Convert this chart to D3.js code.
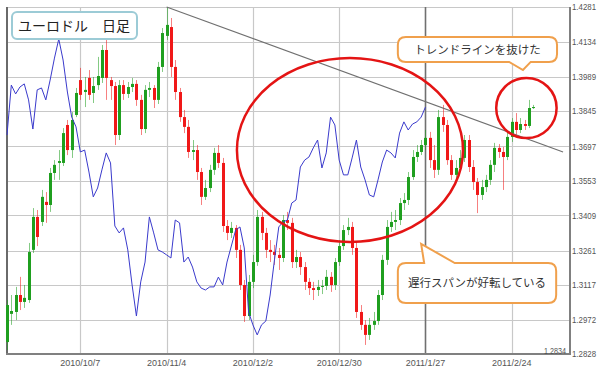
<!DOCTYPE html>
<html><head><meta charset="utf-8">
<script src="https://cdn.jsdelivr.net/npm/d3@7"></script>
<style>body{margin:0;background:#fff}svg{display:block}</style>
</head><body><svg id="c" width="600" height="372"></svg>
<script>
// ---- data (EUR/USD daily, index 0 = 2010/9/14) ----
const open = [1.2878,1.2996,1.3004,1.3075,1.3046,1.3054,1.3264,1.3402,1.3381,1.3465,
1.3452,1.3586,1.3628,1.3628,1.3787,1.3682,1.3829,1.3975,1.3925,1.3984,
1.3921,1.3954,1.3984,1.4101,1.3975,1.3950,1.3745,1.3954,1.3917,1.3946,
1.3959,1.3892,1.3770,1.3934,1.3942,1.3892,1.4030,1.4160,1.4197,1.4030,
1.3925,1.3820,1.3779,1.3674,1.3682,1.3590,1.3486,1.3523,1.3599,1.3670,
1.3628,1.3364,1.3335,1.3356,1.3264,1.3117,1.2987,1.3130,1.3213,1.3402,
1.3335,1.3264,1.3255,1.3243,1.3230,1.3389,1.3377,1.3213,1.3234,1.3192,
1.3130,1.3104,1.3096,1.3109,1.3113,1.3151,1.3117,1.3213,1.3280,1.3347,
1.3360,1.3272,1.3004,1.2950,1.2908,1.2950,1.2966,1.3075,1.3222,1.3360,
1.3381,1.3389,1.3460,1.3473,1.3569,1.3653,1.3674,1.3703,1.3733,1.3640,
1.3599,1.3820,1.3787,1.3640,1.3578,1.3607,1.3649,1.3724,1.3611,1.3548,
1.3494,1.3527,1.3557,1.3620,1.3691,1.3674,1.3653,1.3737,1.3800,1.3766,
1.3791,1.3783,1.3858];
const high = [1.3054,1.3075,1.3109,1.3151,1.3117,1.3293,1.3439,1.3431,1.3515,1.3506,
1.3607,1.3640,1.3682,1.3774,1.3808,1.3841,1.3942,1.4026,1.3988,1.4017,
1.3988,1.4072,1.4122,1.4160,1.3988,1.3967,1.3975,1.3975,1.3967,1.3984,
1.3975,1.3913,1.3954,1.3967,1.3954,1.4051,1.4193,1.4281,1.4235,1.4059,
1.3942,1.3850,1.3808,1.3724,1.3703,1.3607,1.3557,1.3620,1.3691,1.3703,
1.3649,1.3389,1.3381,1.3368,1.3285,1.3138,1.3159,1.3243,1.3431,1.3423,
1.3356,1.3305,1.3285,1.3272,1.3410,1.3423,1.3398,1.3264,1.3255,1.3213,
1.3146,1.3130,1.3138,1.3138,1.3180,1.3171,1.3230,1.3305,1.3368,1.3398,
1.3381,1.3297,1.3033,1.2970,1.2979,1.3004,1.3096,1.3243,1.3389,1.3423,
1.3431,1.3481,1.3502,1.3590,1.3682,1.3703,1.3724,1.3766,1.3758,1.3703,
1.3850,1.3871,1.3808,1.3661,1.3640,1.3682,1.3745,1.3745,1.3640,1.3565,
1.3557,1.3578,1.3640,1.3712,1.3707,1.3695,1.3758,1.3816,1.3837,1.3816,
1.3808,1.3892,1.3871];
const low = [1.2845,1.2950,1.2970,1.3012,1.3021,1.3042,1.3251,1.3280,1.3364,1.3377,
1.3423,1.3557,1.3557,1.3615,1.3661,1.3649,1.3820,1.3892,1.3862,1.3892,
1.3879,1.3934,1.3963,1.3892,1.3892,1.3703,1.3724,1.3892,1.3900,1.3925,
1.3867,1.3745,1.3753,1.3904,1.3858,1.3875,1.4009,1.4143,1.3988,1.3892,
1.3800,1.3753,1.3649,1.3640,1.3557,1.3452,1.3473,1.3506,1.3578,1.3607,
1.3339,1.3305,1.3314,1.3230,1.3096,1.2962,1.2970,1.3104,1.3197,1.3305,
1.3230,1.3213,1.3201,1.3180,1.3213,1.3347,1.3188,1.3188,1.3159,1.3096,
1.3075,1.3054,1.3071,1.3079,1.3096,1.3088,1.3096,1.3197,1.3264,1.3326,
1.3243,1.2979,1.2929,1.2866,1.2887,1.2929,1.2950,1.3054,1.3201,1.3339,
1.3347,1.3368,1.3431,1.3452,1.3557,1.3632,1.3661,1.3682,1.3607,1.3565,
1.3578,1.3758,1.3620,1.3557,1.3548,1.3590,1.3632,1.3590,1.3515,1.3418,
1.3473,1.3506,1.3536,1.3590,1.3649,1.3515,1.3640,1.3716,1.3745,1.3753,
1.3766,1.3774,1.3854];
const close = [1.3033,1.3008,1.3075,1.3046,1.3063,1.3255,1.3402,1.3318,1.3486,1.3452,
1.3586,1.3620,1.3636,1.3753,1.3682,1.3808,1.3921,1.3913,1.3934,1.3913,
1.3950,1.3992,1.4101,1.3984,1.3950,1.3745,1.3954,1.3917,1.3946,1.3959,
1.3892,1.3770,1.3934,1.3942,1.3892,1.4030,1.4172,1.4206,1.4030,1.3925,
1.3820,1.3779,1.3674,1.3682,1.3590,1.3486,1.3523,1.3599,1.3670,1.3628,
1.3364,1.3335,1.3356,1.3264,1.3117,1.2987,1.3130,1.3213,1.3402,1.3335,
1.3264,1.3255,1.3243,1.3230,1.3389,1.3377,1.3213,1.3234,1.3192,1.3130,
1.3104,1.3096,1.3109,1.3113,1.3151,1.3117,1.3213,1.3280,1.3347,1.3360,
1.3272,1.3004,1.2950,1.2908,1.2950,1.2966,1.3075,1.3222,1.3360,1.3381,
1.3389,1.3460,1.3473,1.3569,1.3653,1.3674,1.3703,1.3733,1.3640,1.3599,
1.3820,1.3787,1.3640,1.3578,1.3607,1.3649,1.3724,1.3611,1.3548,1.3494,
1.3527,1.3557,1.3620,1.3691,1.3674,1.3653,1.3737,1.3800,1.3766,1.3791,
1.3783,1.3858,1.3862];
// lagging span (chikou), drawn from index 0
const chikou = [1.3745,1.3954,1.3917,1.3946,1.3959,1.3892,1.3770,1.3934,1.3942,1.3892,
1.3975,1.4067,1.4147,1.4059,1.3925,1.3820,1.3779,1.3674,1.3682,1.3590,
1.3486,1.3523,1.3599,1.3670,1.3628,1.3364,1.3335,1.3356,1.3264,1.3117,
1.2987,1.3130,1.3213,1.3402,1.3335,1.3264,1.3255,1.3243,1.3230,1.3389,
1.3377,1.3213,1.3234,1.3192,1.3130,1.3104,1.3096,1.3109,1.3109,1.3150,
1.3117,1.3213,1.3280,1.3347,1.3360,1.3272,1.3004,1.2950,1.2908,1.2950,
1.2966,1.3075,1.3222,1.3360,1.3381,1.3389,1.3460,1.3473,1.3611,1.3640,
1.3653,1.3691,1.3724,1.3607,1.3670,1.3820,1.3787,1.3640,1.3578,1.3578,
1.3649,1.3724,1.3611,1.3557,1.3494,1.3486,1.3557,1.3632,1.3682,1.3670,
1.3649,1.3753,1.3800,1.3766,1.3791,1.3800,1.3820,1.3862];
const yTicks = [1.2828,1.2972,1.3117,1.3261,1.3409,1.3553,1.3697,1.3845,1.3989,1.4134,1.4281];
const xTickIdx = [17,37,57,77,97,117];
const xTickLabels = ["2010/10/7","2010/11/4","2010/12/2","2010/12/30","2011/1/27","2011/2/24"];
const markerIdx = 97;           // current lagging-span position
const lowLabel = "1.2834";
const titleText = "ユーロドル　日足";
const note1 = "トレンドラインを抜けた";
const note2 = "遅行スパンが好転している";
const trendline = [{i:37,p:1.4281},{i:128.9,p:1.3674}];
const ellipses = [{i:79.5,p:1.3682,ri:26.2,rp:0.0385},{i:120.4,p:1.3858,ri:7.0,rp:0.0126}];
const callouts = [
  {text:note1,i0:90.6,i1:127.5,p0:1.4155,p1:1.4051,tip:{i:119.6,p:1.4017},base:[116.4,121.4],side:"bottom"},
  {text:note2,i0:90.6,i1:127.3,p0:1.3209,p1:1.3042,tip:{i:96.0,p:1.3289},base:[96.7,103.8],side:"top"}
];

// ---- drawing ----
const svg = d3.select("#c");
const L=7, R=570, T=7, B=354;
const x = d3.scaleLinear().domain([0,130.6]).range([L, L+130.6*4.314]);
const y = d3.scaleLinear().domain([1.2828,1.4281]).range([B,T]);
const GREEN="#1f9f1f", RED="#f01818";
const numFont = "'Liberation Sans',Arial,sans-serif";
const jpFont = "'Noto Sans CJK JP','Noto Sans',sans-serif";

svg.append("rect").attr("width",600).attr("height",372).attr("fill","#fff");

// grid
const g = svg.append("g");
g.selectAll("line.h").data(yTicks).join("line")
  .attr("x1",L).attr("x2",R).attr("y1",d=>Math.round(y(d))+0.5).attr("y2",d=>Math.round(y(d))+0.5)
  .attr("stroke","#c8c8c8").attr("stroke-width",1.2);
g.selectAll("line.v").data(xTickIdx).join("line")
  .attr("x1",d=>Math.round(x(d))+0.5).attr("x2",d=>Math.round(x(d))+0.5).attr("y1",T).attr("y2",B)
  .attr("stroke",d=>d===markerIdx?"#707070":"#c8c8c8").attr("stroke-width",d=>d===markerIdx?1.6:1.2);

// axis frame
svg.append("line").attr("x1",L).attr("x2",L).attr("y1",T).attr("y2",B+1).attr("stroke","#6a6a6a").attr("stroke-width",2);
svg.append("line").attr("x1",L-1).attr("x2",R+1).attr("y1",B).attr("y2",B).attr("stroke","#808080").attr("stroke-width",2);
svg.append("line").attr("x1",R).attr("x2",R).attr("y1",T).attr("y2",B+1).attr("stroke","#808080").attr("stroke-width",2);

// y labels
svg.selectAll("text.yl").data(yTicks).join("text")
  .attr("x",R+2).attr("y",d=>y(d)).attr("dy","0.35em")
  .attr("font-family",numFont).attr("font-size",9.5).attr("fill","#555")
  .attr("textLength",24).attr("lengthAdjust","spacingAndGlyphs")
  .text(d=>d.toFixed(4));
// x labels
svg.selectAll("text.xl").data(xTickIdx).join("text")
  .attr("x",d=>x(d)).attr("y",366).attr("text-anchor","middle")
  .attr("font-family",numFont).attr("font-size",9).attr("fill","#555")
  .text((d,k)=>xTickLabels[k]);
// low label
svg.append("text").attr("x",R-4).attr("y",y(+lowLabel)+1).attr("text-anchor","end")
  .attr("font-family",numFont).attr("font-size",9.5).attr("fill","#555")
  .attr("textLength",22).attr("lengthAdjust","spacingAndGlyphs").text(lowLabel);

// candles
const idx = d3.range(close.length);
const cg = svg.append("g");
cg.selectAll("line.w").data(idx).join("line")
  .attr("x1",i=>Math.round(x(i))+0.5).attr("x2",i=>Math.round(x(i))+0.5)
  .attr("y1",i=>y(high[i])).attr("y2",i=>y(low[i]))
  .attr("stroke",i=>close[i]>=open[i]?GREEN:RED).attr("stroke-opacity",0.55).attr("stroke-width",1);
cg.selectAll("rect.b").data(idx).join("rect")
  .attr("x",i=>Math.round(x(i))-1).attr("width",3)
  .attr("y",i=>y(Math.max(open[i],close[i])))
  .attr("height",i=>Math.max(1,Math.abs(y(open[i])-y(close[i]))))
  .attr("fill",i=>close[i]>=open[i]?GREEN:RED);

// lagging span
svg.append("path").datum(chikou)
  .attr("d",d3.line().x((d,i)=>x(i)).y(d=>y(d)))
  .attr("fill","none").attr("stroke","#3a3acc").attr("stroke-width",1);

// trendline
svg.append("line").attr("x1",x(trendline[0].i)).attr("y1",y(trendline[0].p))
  .attr("x2",x(trendline[1].i)).attr("y2",y(trendline[1].p))
  .attr("stroke","#707070").attr("stroke-width",1.1);

// title box
svg.append("rect").attr("x",12).attr("y",12).attr("width",125).attr("height",27).attr("rx",5)
  .attr("fill","#fff").attr("stroke","#9ccbd6").attr("stroke-width",2);
svg.append("text").attr("x",18).attr("y",31).attr("font-family",jpFont).attr("font-size",14)
  .attr("fill","#222").text(titleText);

// ellipses
svg.selectAll("ellipse").data(ellipses).join("ellipse")
  .attr("cx",d=>x(d.i)).attr("cy",d=>y(d.p))
  .attr("rx",d=>x(d.ri)-x(0)).attr("ry",d=>y(0)-y(d.rp)).attr("fill","none")
  .attr("stroke","#e41414").attr("stroke-width",2.5);

// callouts
callouts.forEach(c=>{
  const x0=x(c.i0), x1=x(c.i1), y0=y(c.p0), y1=y(c.p1), r=8;
  const bx0=x(c.base[0]), bx1=x(c.base[1]), tx=x(c.tip.i), ty=y(c.tip.p);
  let p;
  if(c.side==="bottom"){
    p=`M${x0+r},${y0} H${x1-r} Q${x1},${y0} ${x1},${y0+r} V${y1-r} Q${x1},${y1} ${x1-r},${y1} H${bx1} L${tx},${ty} L${bx0},${y1} H${x0+r} Q${x0},${y1} ${x0},${y1-r} V${y0+r} Q${x0},${y0} ${x0+r},${y0} Z`;
  } else {
    p=`M${x0+r},${y0} H${bx0} L${tx},${ty} L${bx1},${y0} H${x1-r} Q${x1},${y0} ${x1},${y0+r} V${y1-r} Q${x1},${y1} ${x1-r},${y1} H${x0+r} Q${x0},${y1} ${x0},${y1-r} V${y0+r} Q${x0},${y0} ${x0+r},${y0} Z`;
  }
  svg.append("path").attr("d",p).attr("fill","#fff").attr("stroke","#f0a04c").attr("stroke-width",2);
  svg.append("text").attr("x",(x0+x1)/2).attr("y",(y0+y1)/2).attr("dy","0.36em").attr("text-anchor","middle")
    .attr("font-family",jpFont).attr("font-size",11.5).attr("fill","#333").text(c.text);
});
</script>
</body></html>
